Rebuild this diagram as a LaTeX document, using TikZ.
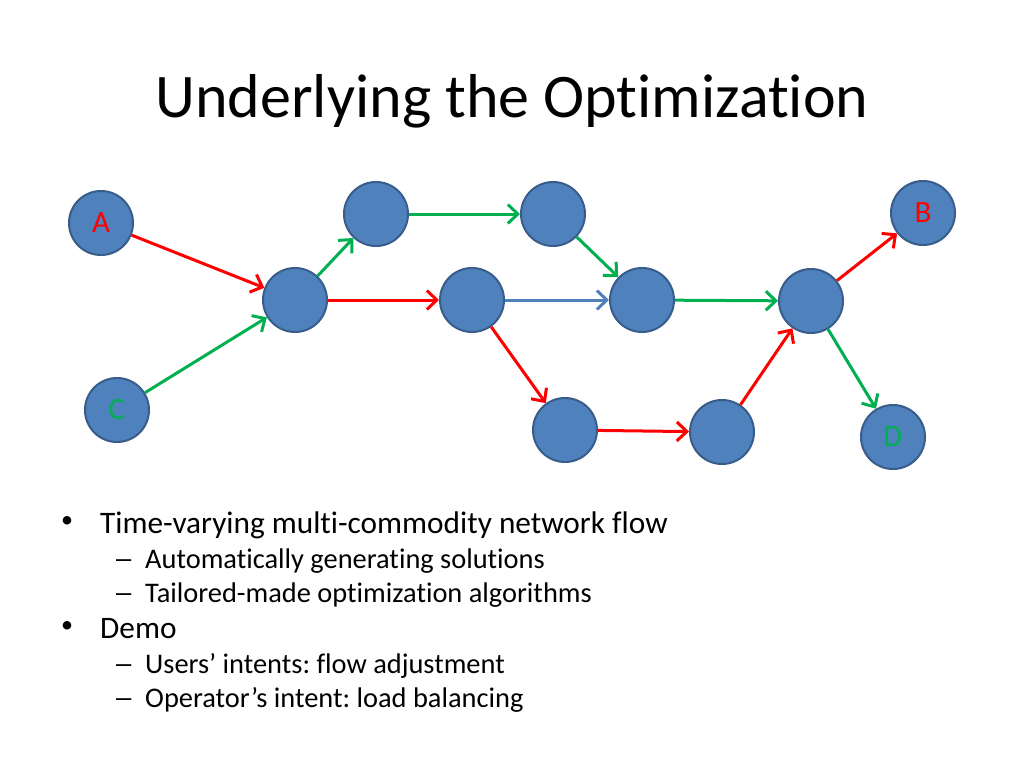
\documentclass[tikz,border=0pt]{standalone}
\usepackage{fontspec}
\setmainfont{Carlito}[Ligatures={NoCommon}]
\usetikzlibrary{arrows.meta}
\definecolor{nodefill}{HTML}{4F81BD}
\definecolor{nodeedge}{HTML}{385D8A}
\definecolor{fred}{HTML}{FF0000}
\definecolor{fgreen}{HTML}{00B050}
\definecolor{fblue}{HTML}{4F81BD}
\frenchspacing
\tikzset{
  netnode/.style={circle, draw=nodeedge, fill=nodefill, line width=2pt, minimum size=64pt, inner sep=0pt, font=\fontsize{31}{34}\selectfont},
  flow/.style={line width=3pt, -{Straight Barb[length=10pt,width=19pt,line width=3pt]}},
  redflow/.style={flow, draw=fred},
  greenflow/.style={flow, draw=fgreen},
  blueflow/.style={flow, draw=fblue},
  lvlone/.style={anchor=base west, inner sep=0pt, font=\fontsize{31.3}{36}\selectfont},
  lvltwo/.style={anchor=base west, inner sep=0pt, font=\fontsize{28.4}{32}\selectfont},
  bulletmark/.style={anchor=center, inner sep=0pt, font=\fontsize{24}{28}\selectfont},
}
\begin{document}
\begin{tikzpicture}[x=1pt,y=-1pt]
\useasboundingbox (0,0) rectangle (1024,768);
\fill[white] (0,0) rectangle (1024,768);
\node[anchor=base, inner sep=0pt, font=\fontsize{62}{70}\selectfont] (title) at (512,117) {Underlying the Optimization};

\node[netnode, text=fred] (A) at (101,223) {A};
\node[netnode] (n1) at (295,300) {};
\node[netnode, text=fgreen] (C) at (117,410) {C};
\node[netnode] (n2) at (376,214) {};
\node[netnode] (n3) at (553,214) {};
\node[netnode] (n4) at (472,300) {};
\node[netnode] (n5) at (642,300) {};
\node[netnode] (n6) at (565,430) {};
\node[netnode] (n7) at (722,432) {};
\node[netnode] (n8) at (811,301) {};
\node[netnode, text=fred] (B) at (923,213) {B};
\node[netnode, text=fgreen] (D) at (893,437) {D};

\draw[redflow] (A) -- (n1);
\draw[greenflow] (C) -- (n1);
\draw[greenflow] (n1) -- (n2);
\draw[redflow] (n1) -- (n4);
\draw[greenflow] (n2) -- (n3);
\draw[greenflow] (n3) -- (n5);
\draw[blueflow] (n4) -- (n5);
\draw[redflow] (n4) -- (n6);
\draw[redflow] (n6) -- (n7);
\draw[greenflow] (n5) -- (n8);
\draw[redflow] (n7) -- (n8);
\draw[redflow] (n8) -- (B);
\draw[greenflow] (n8) -- (D);

\node[bulletmark] (b1) at (67,522) {•};
\node[lvlone] (t1) at (100,533) {Time-varying multi-commodity network flow};
\node[lvltwo] (d1) at (113,568) {\scalebox{1.5}[1]{–}};
\node[lvltwo] (t2) at (145,568) {Automatically generating solutions};
\node[lvltwo] (d2) at (113,602) {\scalebox{1.5}[1]{–}};
\node[lvltwo] (t3) at (145,602) {Tailored-made optimization algorithms};
\node[bulletmark] (b2) at (67,627) {•};
\node[lvlone] (t4) at (100,638) {Demo};
\node[lvltwo] (d3) at (113,673) {\scalebox{1.5}[1]{–}};
\node[lvltwo] (t5) at (145,673) {Users’ intents: flow adjustment};
\node[lvltwo] (d4) at (113,707) {\scalebox{1.5}[1]{–}};
\node[lvltwo] (t6) at (145,707) {Operator’s intent: load balancing};
\end{tikzpicture}
\end{document}
